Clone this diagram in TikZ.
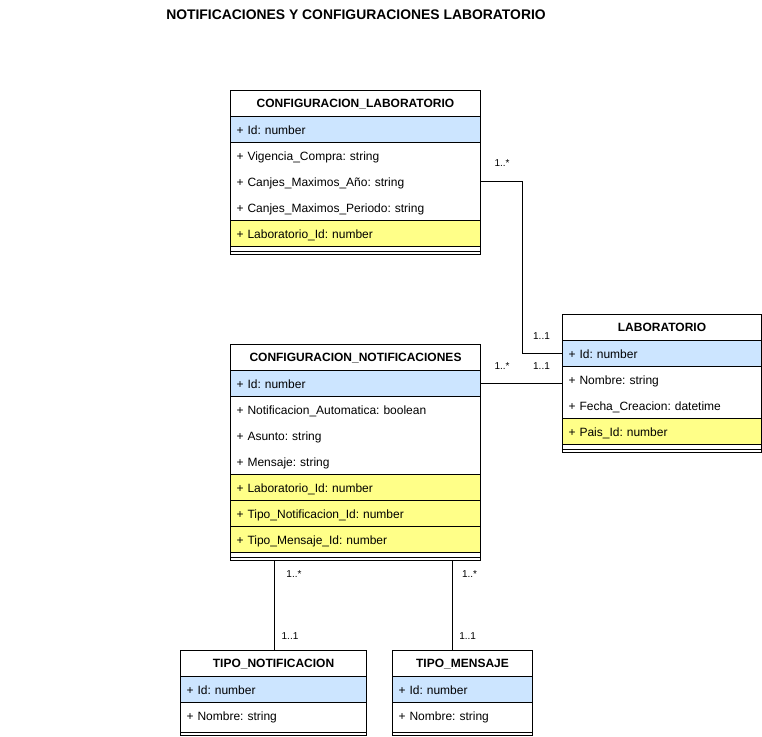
\documentclass[tikz,border=0pt]{standalone}
\usepackage{fontspec}
\setmainfont{Liberation Sans}
\frenchspacing
\definecolor{idblue}{HTML}{CCE5FF}
\definecolor{fkyellow}{HTML}{FFFF88}
\begin{document}
\begin{tikzpicture}[x=1pt,y=-1pt,line width=1pt,
  classbox/.style={draw,fill=white,anchor=north west,inner sep=0pt},
  hdr/.style={draw,anchor=north west,inner sep=0pt,minimum height=26pt,
    text height=8.6pt,text depth=0pt,font=\fontsize{12}{14}\selectfont\bfseries},
  row/.style={anchor=north west,inner xsep=6pt,inner ysep=0pt,minimum height=26pt,
    text width=#1,align=left,text height=9pt,text depth=0pt,
    font=\fontsize{12}{14}\selectfont},
  idrow/.style={row=#1,draw,fill=idblue},
  fkrow/.style={row=#1,draw,fill=fkyellow},
  mult/.style={inner sep=0pt,text height=7.2pt,text depth=0pt,
    font=\fontsize{10}{12}\selectfont},
  title/.style={inner sep=0pt,text height=10pt,text depth=0pt,
    font=\fontsize{13.9}{16}\selectfont\bfseries}]
\useasboundingbox (0,0) rectangle (762,736);

\node[title] (title) at (356,14.5) {NOTIFICACIONES Y CONFIGURACIONES LABORATORIO};

% CONFIGURACION_LABORATORIO
\node[classbox,minimum width=250pt,minimum height=164pt] (cl) at (230,90) {};
\node[hdr,minimum width=250pt] (cl-h) at (230,90) {CONFIGURACION\_LABORATORIO};
\node[idrow=238pt] (cl-id) at (230,116) {+ Id: number};
\node[row=238pt] (cl-vig) at (230,142) {+ Vigencia\_Compra: string};
\node[row=238pt] (cl-anio) at (230,168) {+ Canjes\_Maximos\_Año: string};
\node[row=238pt] (cl-per) at (230,194) {+ Canjes\_Maximos\_Periodo: string};
\node[fkrow=238pt] (cl-lab) at (230,220) {+ Laboratorio\_Id: number};
\draw ([yshift=4pt]cl.south west) -- ([yshift=4pt]cl.south east);

% LABORATORIO
\node[classbox,minimum width=199pt,minimum height=138pt] (lab) at (562,314) {};
\node[hdr,minimum width=199pt] (lab-h) at (562,314) {LABORATORIO};
\node[idrow=187pt] (lab-id) at (562,340) {+ Id: number};
\node[row=187pt] (lab-nom) at (562,366) {+ Nombre: string};
\node[row=187pt] (lab-fec) at (562,392) {+ Fecha\_Creacion: datetime};
\node[fkrow=187pt] (lab-pais) at (562,418) {+ Pais\_Id: number};
\draw ([yshift=4pt]lab.south west) -- ([yshift=4pt]lab.south east);

% CONFIGURACION_NOTIFICACIONES
\node[classbox,minimum width=250pt,minimum height=216pt] (cn) at (230,344) {};
\node[hdr,minimum width=250pt] (cn-h) at (230,344) {CONFIGURACION\_NOTIFICACIONES};
\node[idrow=238pt] (cn-id) at (230,370) {+ Id: number};
\node[row=238pt] (cn-auto) at (230,396) {+ Notificacion\_Automatica: boolean};
\node[row=238pt] (cn-asu) at (230,422) {+ Asunto: string};
\node[row=238pt] (cn-men) at (230,448) {+ Mensaje: string};
\node[fkrow=238pt] (cn-lab) at (230,474) {+ Laboratorio\_Id: number};
\node[fkrow=238pt] (cn-tn) at (230,500) {+ Tipo\_Notificacion\_Id: number};
\node[fkrow=238pt] (cn-tm) at (230,526) {+ Tipo\_Mensaje\_Id: number};
\draw ([yshift=4pt]cn.south west) -- ([yshift=4pt]cn.south east);

% TIPO_NOTIFICACION
\node[classbox,minimum width=186pt,minimum height=85pt] (tn) at (180,650) {};
\node[hdr,minimum width=186pt] (tn-h) at (180,650) {TIPO\_NOTIFICACION};
\node[idrow=174pt] (tn-id) at (180,676) {+ Id: number};
\node[row=174pt] (tn-nom) at (180,702) {+ Nombre: string};
\draw ([yshift=4pt]tn.south west) -- ([yshift=4pt]tn.south east);

% TIPO_MENSAJE
\node[classbox,minimum width=140pt,minimum height=85pt] (tm) at (392,650) {};
\node[hdr,minimum width=140pt] (tm-h) at (392,650) {TIPO\_MENSAJE};
\node[idrow=128pt] (tm-id) at (392,676) {+ Id: number};
\node[row=128pt] (tm-nom) at (392,702) {+ Nombre: string};
\draw ([yshift=4pt]tm.south west) -- ([yshift=4pt]tm.south east);

% associations
\draw (cl-anio.east) -- ++(41,0) |- (lab-id.west);
\draw (cn-id.east) -- (cn-id.east -| lab.west);
\draw ([xshift=1pt]tn.north |- cn.south) -- ([xshift=1pt]tn.north);
\draw ([xshift=-10pt]tm.north |- cn.south) -- ([xshift=-10pt]tm.north);

% multiplicities
\node[mult] (m1) at (502,163) {1..*};
\node[mult] (m2) at (541.5,335.5) {1..1};
\node[mult] (m3) at (502,365.5) {1..*};
\node[mult] (m4) at (541.5,365.5) {1..1};
\node[mult] (m5) at (294,574) {1..*};
\node[mult] (m6) at (290,635.5) {1..1};
\node[mult] (m7) at (469.5,574) {1..*};
\node[mult] (m8) at (467.7,635.5) {1..1};
\end{tikzpicture}
\end{document}
